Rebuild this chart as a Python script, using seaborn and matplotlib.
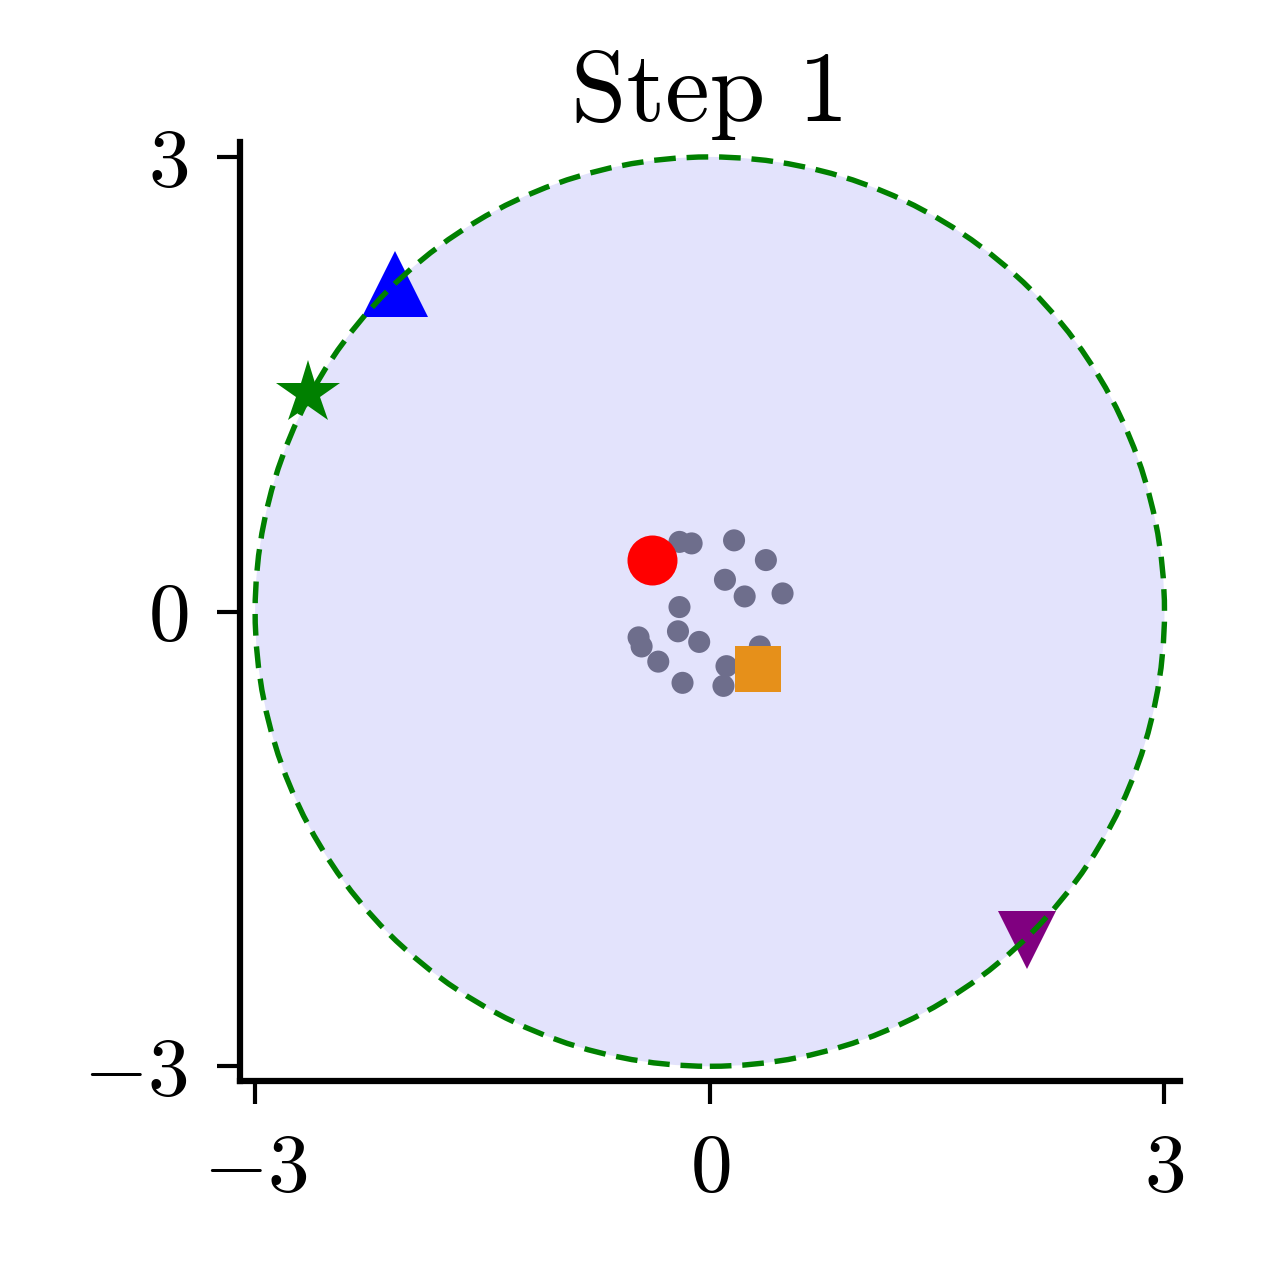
# %% Step 1 scatter on the disc
import numpy as np
import pandas as pd
import seaborn as sns
import matplotlib.pyplot as plt
from matplotlib.patches import Circle

# gray cloud near the centre
cloud_x = [-0.20, -0.12, 0.16, 0.37, 0.10, 0.23, 0.48, -0.20, -0.47, -0.45,
           -0.21, -0.07, -0.34, -0.18, 0.11, 0.09, 0.33, 0.35]
cloud_y = [0.46, 0.45, 0.47, 0.34, 0.21, 0.10, 0.12, 0.03, -0.17, -0.23,
           -0.13, -0.20, -0.33, -0.47, -0.36, -0.49, -0.23, -0.45]

# special points
special_x = [-0.38, 0.32, -2.08, -2.65, 2.09]
special_y = [0.34, -0.38, 2.16, 1.44, -2.17]
special_name = ['red', 'orange', 'blue', 'green', 'purple']

radius = 3.0
ticks = [-3, 0, 3]

sns.set_style('white')
plt.rcParams['font.family'] = 'serif'
plt.rcParams['font.serif'] = ['cmr10']
plt.rcParams['mathtext.fontset'] = 'cm'
plt.rcParams['axes.formatter.use_mathtext'] = True
plt.rcParams['axes.unicode_minus'] = True
plt.rcParams['text.color'] = 'black'
plt.rcParams['xtick.color'] = 'black'
plt.rcParams['ytick.color'] = 'black'

fig = plt.figure(figsize=(4.21, 4.21), dpi=300)
ax = fig.add_axes([0.190, 0.1425, 0.744, 0.7465])

# disc
ax.add_patch(Circle((0, 0), radius, facecolor='#e3e3fc', edgecolor='none', zorder=0))
ax.add_patch(Circle((0, 0), radius, facecolor='none', edgecolor='green',
                    linestyle=(0, (4.0, 2.0)), linewidth=1.3, zorder=3))

dfcloud = pd.DataFrame({'x': cloud_x, 'y': cloud_y})
sns.scatterplot(data=dfcloud, x='x', y='y', color='#6e6e8c', s=28,
                edgecolor='none', ax=ax, zorder=2)

styles = {
    'red': dict(marker='o', color='red', ms=12),
    'orange': dict(marker='s', color='#e6901a', ms=11),
    'blue': dict(marker='^', color='blue', ms=16),
    'green': dict(marker='*', color='green', ms=16),
    'purple': dict(marker='v', color='purple', ms=14),
}
for name, xv, yv in zip(special_name, special_x, special_y):
    st = styles[name]
    ax.plot(xv, yv, linestyle='none', marker=st['marker'], color=st['color'],
            markersize=st['ms'], markeredgewidth=0, zorder=2)

ax.set_xlim(-3.1, 3.1)
ax.set_ylim(-3.1, 3.1)
ax.set_aspect('equal')
ax.set_xticks(ticks)
ax.set_yticks(ticks)
ax.set_xlabel('')
ax.set_ylabel('')
ax.tick_params(axis='both', direction='out', length=5.5, width=1.0,
               labelsize=20, pad=7, bottom=True, left=True)
sns.despine(ax=ax)
for side in ['left', 'bottom']:
    ax.spines[side].set_linewidth(1.5)
    ax.spines[side].set_color('black')

ax.set_title('Step 1', fontsize=24, pad=5, color='black')

plt.savefig('out.png', dpi=300)
